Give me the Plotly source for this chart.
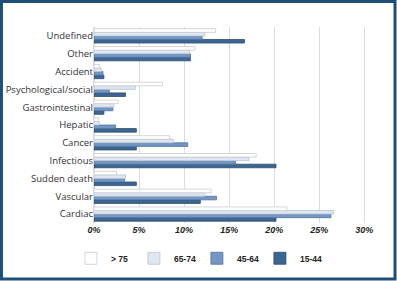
import plotly.graph_objects as go

categories = ["Undefined", "Other", "Accident", "Psychological/social", "Gastrointestinal",
              "Hepatic", "Cancer", "Infectious", "Sudden death", "Vascular", "Cardiac"]
s_75 = [13.5, 11.2, 0.6, 7.6, 2.7, 0.5, 8.4, 18.0, 2.5, 13.0, 21.4]
s_65_74 = [12.3, 10.6, 0.8, 4.6, 2.2, 0.6, 8.8, 17.2, 3.5, 12.3, 26.6]
s_45_64 = [12.0, 10.7, 1.0, 1.7, 2.1, 2.4, 10.4, 15.7, 3.4, 13.6, 26.3]
s_15_44 = [16.7, 10.7, 1.1, 3.5, 1.1, 4.7, 4.7, 20.2, 4.7, 11.8, 20.2]
tick_vals = [0, 5, 10, 15, 20, 25, 30]
tick_text = ["0%", "5%", "10%", "15%", "20%", "25%", "30%"]

cats_rev = categories[::-1]
series = [
    ("15-44", s_15_44, "#3d6592", "#2c4c70"),
    ("45-64", s_45_64, "#7396c2", "#4f75a3"),
    ("65-74", s_65_74, "#dde6f1", "#b9c6d6"),
    ("> 75", s_75, "#ffffff", "#c8ccd2"),
]

fig = go.Figure()
for name, vals, col, lcol in series:
    fig.add_trace(go.Bar(
        y=cats_rev, x=vals[::-1], name="<b>%s</b>" % name, orientation="h",
        marker=dict(color=col, line=dict(color=lcol, width=0.8)),
    ))

fig.update_layout(
    width=397, height=281,
    margin=dict(l=94, r=30, t=27, b=58, autoexpand=False),
    paper_bgcolor="white", plot_bgcolor="white",
    barmode="group", bargap=0.2, bargroupgap=0,
    font=dict(family="Liberation Sans, Arial", color="#222"),
    xaxis=dict(range=[0, 30.3], tickvals=tick_vals,
               ticktext=["<b><i>%s</i></b>" % t for t in tick_text],
               showgrid=True, gridcolor="#dcdcdc", gridwidth=1,
               zeroline=True, zerolinecolor="#dcdcdc",
               tickfont=dict(size=9, family="Liberation Sans", color="#222"),
               ticks="", automargin=False),
    yaxis=dict(tickfont=dict(size=9.5, family="Open Sans", color="#333"),
               showgrid=False, ticks="", automargin=False),
    legend=dict(orientation="h", x=0.377, xanchor="center", y=-0.18, yanchor="middle",
                traceorder="reversed", font=dict(size=8.5, family="Liberation Sans", color="#222"),
                itemwidth=30, entrywidth=18, entrywidthmode="pixels",
                bgcolor="rgba(0,0,0,0)"),
    showlegend=True,
    shapes=[dict(type="rect", xref="paper", yref="paper",
                 x0=-0.339, x1=1.1026, y0=-0.2857, y1=1.130,
                 line=dict(color="#1f4e79", width=3))],
)

fig.write_html("out.html", config={"displayModeBar": False},
               post_script="document.body.style.margin='0';")
